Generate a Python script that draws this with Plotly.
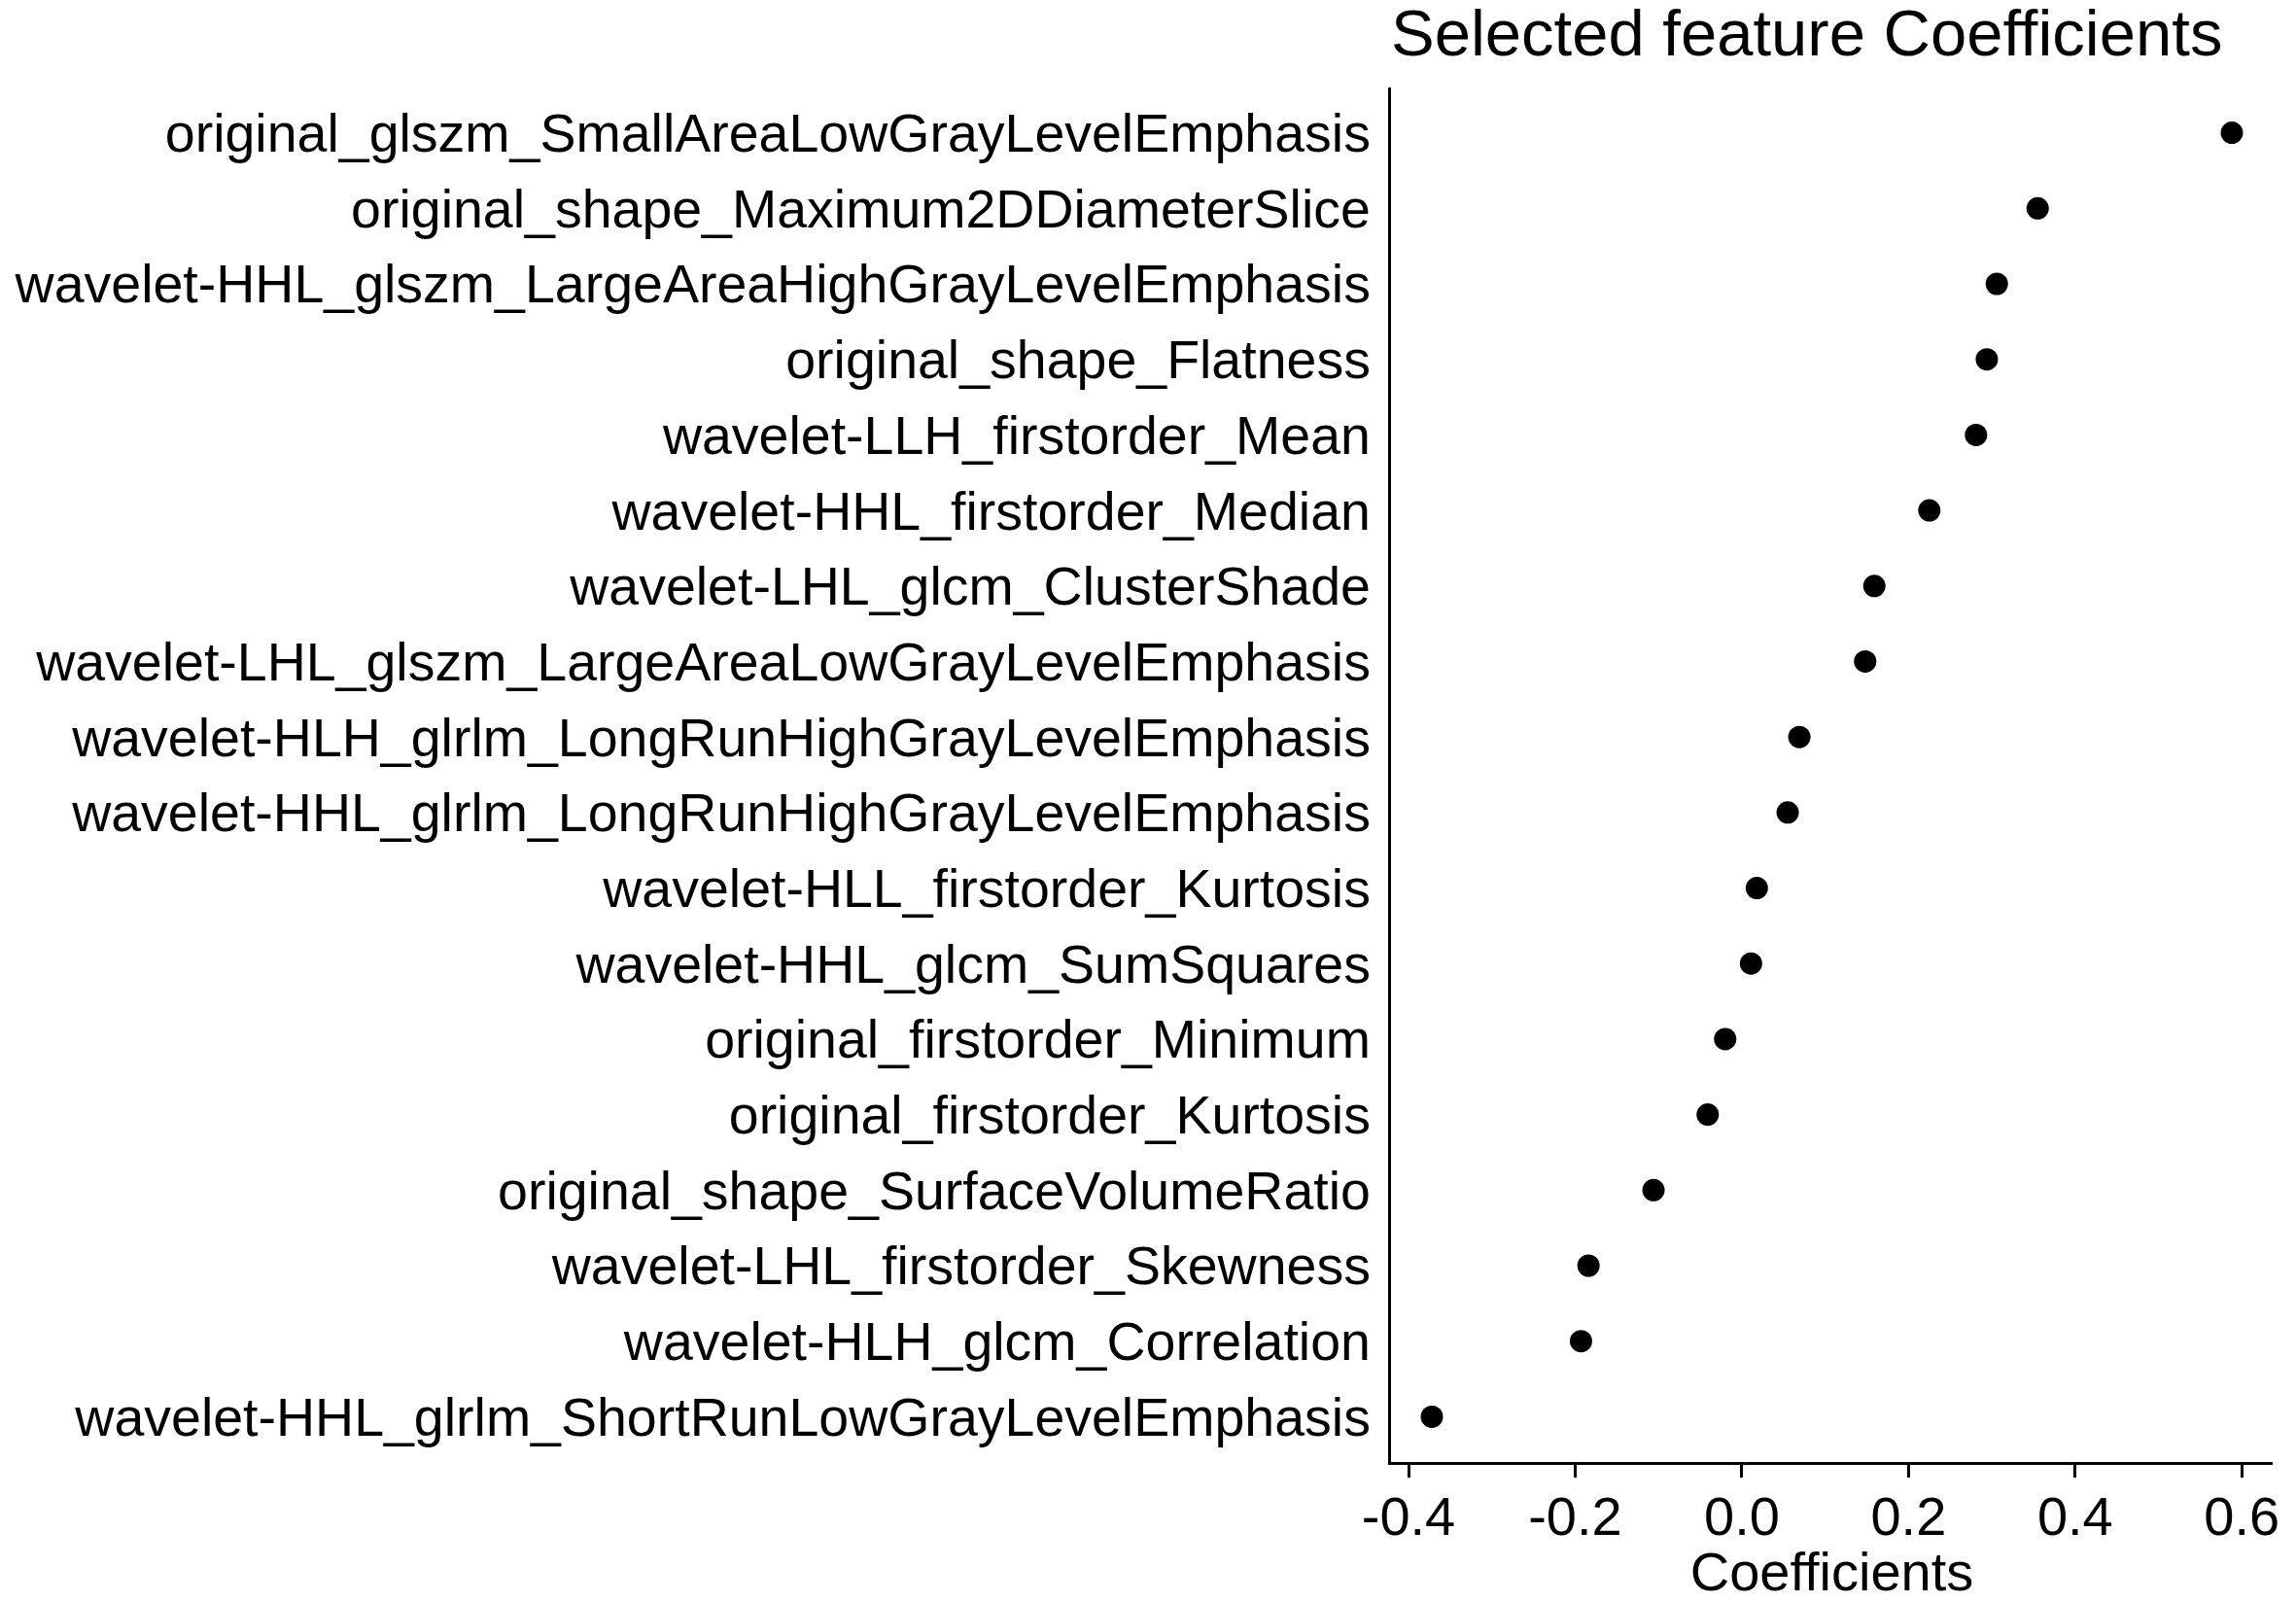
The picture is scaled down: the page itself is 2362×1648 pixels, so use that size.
import plotly.graph_objects as go

# Feature names, top to bottom as shown
features = [
    "original_glszm_SmallAreaLowGrayLevelEmphasis",
    "original_shape_Maximum2DDiameterSlice",
    "wavelet-HHL_glszm_LargeAreaHighGrayLevelEmphasis",
    "original_shape_Flatness",
    "wavelet-LLH_firstorder_Mean",
    "wavelet-HHL_firstorder_Median",
    "wavelet-LHL_glcm_ClusterShade",
    "wavelet-LHL_glszm_LargeAreaLowGrayLevelEmphasis",
    "wavelet-HLH_glrlm_LongRunHighGrayLevelEmphasis",
    "wavelet-HHL_glrlm_LongRunHighGrayLevelEmphasis",
    "wavelet-HLL_firstorder_Kurtosis",
    "wavelet-HHL_glcm_SumSquares",
    "original_firstorder_Minimum",
    "original_firstorder_Kurtosis",
    "original_shape_SurfaceVolumeRatio",
    "wavelet-LHL_firstorder_Skewness",
    "wavelet-HLH_glcm_Correlation",
    "wavelet-HHL_glrlm_ShortRunLowGrayLevelEmphasis",
]

# Coefficient values
coefficients = [
    0.588, 0.355, 0.306, 0.294, 0.281, 0.225, 0.159, 0.148, 0.069,
    0.055, 0.018, 0.011, -0.020, -0.041, -0.106, -0.184, -0.193, -0.372,
]

x_ticks = [-0.4, -0.2, 0.0, 0.2, 0.4, 0.6]
x_tick_labels = ["-0.4", "-0.2", "0.0", "0.2", "0.4", "0.6"]

fig = go.Figure()

fig.add_trace(go.Scatter(
    x=coefficients,
    y=features,
    mode="markers",
    marker=dict(color="black", size=23),
    showlegend=False,
))

# page body adds an 8px margin, so the figure is 8px smaller each way
fig.update_layout(
    width=2354,
    height=1640,
    margin=dict(l=1423, r=24, t=82, b=144),
    paper_bgcolor="white",
    plot_bgcolor="white",
    font=dict(family="Liberation Sans, Arial, sans-serif", color="black", size=56),
    title=dict(
        text="Selected feature Coefficients",
        font=dict(size=67, color="black"),
        xref="paper", x=0, xanchor="left",
        yref="container", y=1 - 26 / 1640, yanchor="middle",
    ),
)

fig.update_xaxes(
    automargin=False,
    range=[-0.421, 0.637],
    tickvals=x_ticks,
    ticktext=x_tick_labels,
    ticks="outside",
    ticklen=13,
    tickwidth=3,
    tickcolor="black",
    ticklabelstandoff=-8,
    showline=True,
    linecolor="black",
    linewidth=3,
    showgrid=False,
    zeroline=False,
    tickfont=dict(size=56),
    title=dict(text="Coefficients", font=dict(size=56), standoff=10),
)

fig.update_yaxes(
    automargin=False,
    type="category",
    categoryorder="array",
    categoryarray=features,
    range=[17.6, -0.6],
    ticks="",
    ticklabelstandoff=7,
    showline=True,
    linecolor="black",
    linewidth=3,
    showgrid=False,
    zeroline=False,
    tickfont=dict(size=55.5),
)

fig.write_html("out.html")
